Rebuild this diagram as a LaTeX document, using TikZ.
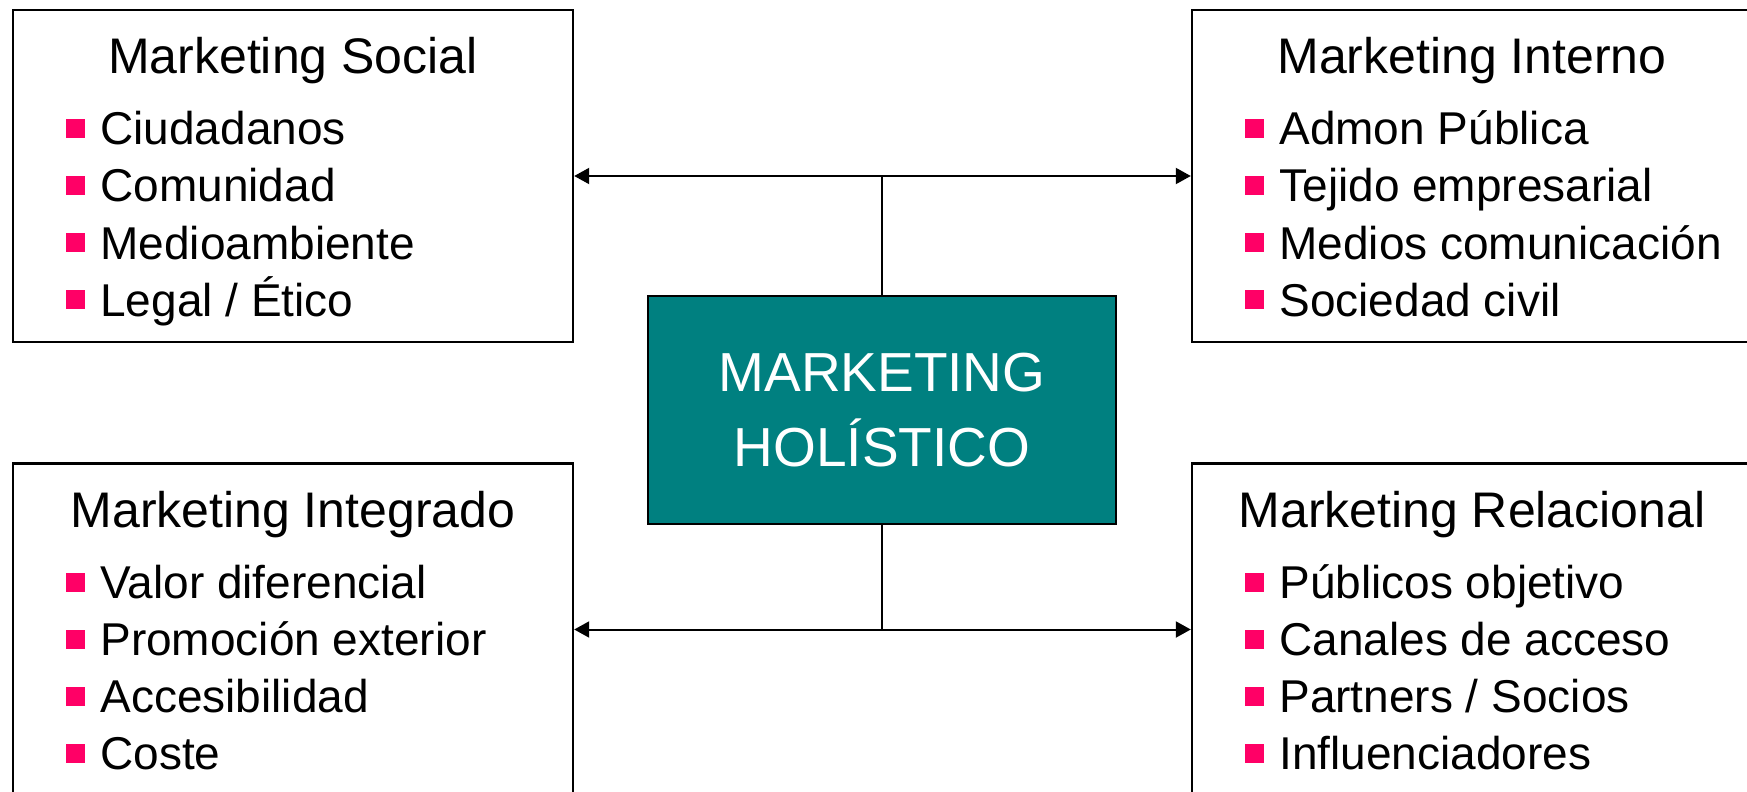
\documentclass[tikz,border=0pt]{standalone}
\usepackage{fontspec}
\setmainfont{Liberation Sans}
\usetikzlibrary{arrows.meta}

\definecolor{verdeacqua}{HTML}{008080}
\definecolor{rosa}{HTML}{FF0066}

\tikzset{
    riquadro/.style={draw, line width=1.2pt, minimum width=280pt, minimum height=166pt, inner sep=0},
    centro/.style={draw, line width=1.2pt, fill=verdeacqua, text=white, align=center,
        minimum width=234pt, minimum height=114pt, font=\fontsize{27.5}{37.5}\selectfont},
    titolo/.style={anchor=base, inner sep=0, font=\fontsize{25}{30}\selectfont},
    voce/.style={anchor=base west, inner sep=0, font=\fontsize{23}{28}\selectfont},
    freccia/.style={line width=1pt, {Triangle[length=7.5pt,width=8pt]}-{Triangle[length=7.5pt,width=8pt]}}
}

\begin{document}
\begin{tikzpicture}[x=0.5pt,y=-0.5pt]
        \useasboundingbox (0,0) rectangle (1747,792);
        \clip (0,0) rectangle (1747,792);

        % Disegna i quattro riquadri
        \foreach \nome/\x/\y/\titolo/\voci in {
            social/13/10/Marketing Social/{Ciudadanos,Comunidad,Medioambiente,{Legal / Ético}},
            interno/1192/10/Marketing Interno/{Admon Pública,Tejido empresarial,Medios comunicación,Sociedad civil},
            integrado/13/463.5/Marketing Integrado/{Valor diferencial,Promoción exterior,Accesibilidad,Coste},
            relacional/1192/463.5/Marketing Relacional/{Públicos objetivo,Canales de acceso,{Partners / Socios},Influenciadores}} {
            \node[riquadro] (\nome) at (\x+280,\y+166) {};
            \node[titolo] (\nome-titolo) at (\x+280,\y+63.5) {\titolo};
            \foreach \v [count=\i] in \voci {
                \fill[rosa] (\x+53,{\y+109+57*(\i-1)}) rectangle +(19,19);
                \node[voce] (\nome-\i) at (\x+87,{\y+135+57*(\i-1)}) {\v};
            }
        }

        % Disegna il riquadro centrale
        \node[centro] (holistico) at (882,410) {MARKETING\\HOLÍSTICO};

        % Disegna le frecce
        \coordinate (sopra) at (holistico.north |- social.east);
        \coordinate (sotto) at (holistico.south |- integrado.east);
        \draw[freccia] (social.east) -- (interno.west);
        \draw[freccia] (integrado.east) -- (relacional.west);
        \draw[line width=1pt] (holistico.north) -- (sopra);
        \draw[line width=1pt] (holistico.south) -- (sotto);
\end{tikzpicture}
\end{document}
